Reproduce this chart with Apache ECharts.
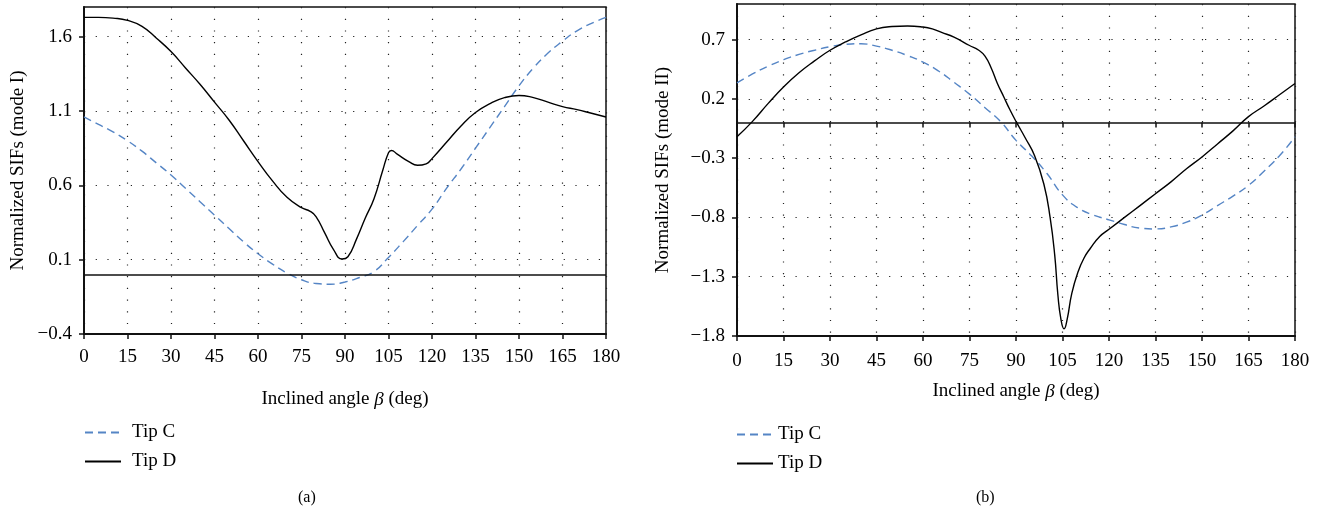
<!DOCTYPE html>
<html><head><meta charset="utf-8">
<script src="https://cdn.jsdelivr.net/npm/echarts@6/dist/echarts.min.js"></script>
<style>html,body{margin:0;padding:0;background:#fff}#c{width:1328px;height:516px}</style>
</head><body><div id="c"></div>
<script>
// ---- data ----
const xTickLabels = [0,15,30,45,60,75,90,105,120,135,150,165,180];
const yTicksA = [-0.4,0.1,0.6,1.1,1.6];
const yTicksB = [-1.8,-1.3,-0.8,-0.3,0.2,0.7];
const seriesNames = ['Tip C','Tip D'];

// (a) mode I
const angA_C = [0,5,10,15,20,25,30,35,40,45,50,55,60,65,70,75,80,85,90,95,100,105,110,115,120,125,130,135,140,145,150,155,160,165,170,175,180];
const valA_C = [1.06,1.01,0.96,0.90,0.83,0.75,0.67,0.58,0.49,0.40,0.31,0.22,0.14,0.07,0.01,-0.035,-0.06,-0.065,-0.05,-0.02,0.02,0.115,0.22,0.33,0.44,0.58,0.71,0.85,0.99,1.13,1.27,1.39,1.49,1.57,1.64,1.69,1.73];
const angA_D = [0,5,10,15,20,25,30,35,40,45,50,55,60,65,70,75,78,80,83,86,89,91,94,97,100,103,105,106,108,112,115,118,120,125,130,135,140,145,150,155,160,165,170,175,180];
const valA_D = [1.73,1.73,1.725,1.71,1.67,1.59,1.50,1.39,1.28,1.16,1.04,0.90,0.76,0.63,0.52,0.45,0.425,0.39,0.28,0.17,0.105,0.12,0.24,0.38,0.51,0.70,0.82,0.835,0.81,0.76,0.735,0.745,0.78,0.89,1.00,1.09,1.15,1.19,1.205,1.19,1.16,1.13,1.11,1.085,1.06];

// (b) mode II
const angB_C = [0,5,10,15,20,25,30,35,40,45,50,55,60,65,70,75,80,85,90,95,100,105,110,115,120,125,130,135,140,145,150,155,160,165,170,175,180];
const valB_C = [0.335,0.41,0.475,0.53,0.575,0.61,0.64,0.66,0.665,0.645,0.61,0.565,0.51,0.435,0.34,0.24,0.125,0.01,-0.15,-0.28,-0.43,-0.61,-0.72,-0.78,-0.82,-0.86,-0.89,-0.897,-0.88,-0.84,-0.78,-0.70,-0.62,-0.53,-0.41,-0.28,-0.12];
const angB_D = [0,5,10,15,20,25,30,35,40,45,50,55,60,63,66,70,75,78,80,82,84,86,88,90,93,96,99,101,102.5,103.5,104.5,105.5,106.5,108,110,112,114,117,120,125,130,135,140,145,150,155,160,165,170,175,180];
const valB_D = [-0.12,0.01,0.16,0.30,0.42,0.52,0.61,0.68,0.74,0.79,0.81,0.815,0.806,0.79,0.76,0.72,0.65,0.61,0.56,0.46,0.33,0.22,0.11,0.01,-0.13,-0.28,-0.52,-0.80,-1.12,-1.45,-1.66,-1.74,-1.66,-1.44,-1.26,-1.14,-1.06,-0.96,-0.90,-0.80,-0.70,-0.60,-0.50,-0.39,-0.29,-0.18,-0.07,0.05,0.14,0.235,0.33];

// ---- chart ----
const FONT = '"Liberation Serif","DejaVu Serif",serif';
const BLUE = '#5585c5';
const zip = (a, b) => a.map((x, i) => [x, b[i]]);
const fmt = v => { const s = (Math.round(v * 10) / 10).toFixed(Number.isInteger(v) ? 0 : 1); return s.replace('-', '\u2212'); };
const nameStyle = { fontFamily: FONT, fontSize: 19, color: '#000',
  rich: { i: { fontFamily: FONT, fontSize: 19, fontStyle: 'italic', color: '#000' } } };

function xAxis(grid, nameGap, labelMargin) {
  return {
    type: 'value', gridIndex: grid, min: 0, max: 180, interval: 15,
    name: 'Inclined angle {i|\u03b2} (deg)', nameLocation: 'middle', nameGap: nameGap,
    nameTextStyle: nameStyle,
    axisLine: { onZero: false, lineStyle: { color: '#111', width: 2 } },
    axisTick: { show: true, length: 5, lineStyle: { color: '#111', width: 1.5 } },
    axisLabel: { fontFamily: FONT, fontSize: 19, color: '#000', margin: labelMargin, formatter: v => String(v) },
    splitLine: { show: true, lineStyle: { color: '#222', width: 1.2, type: [1.2, 10.5] } }
  };
}
function yAxis(grid, min, max, ticks, name, nameGap) {
  return {
    type: 'value', gridIndex: grid, min: min, max: max,
    name: name, nameLocation: 'middle', nameGap: nameGap,
    nameTextStyle: nameStyle,
    axisLine: { show: true, lineStyle: { color: '#111', width: 2 } },
    axisTick: { show: true, length: 5, customValues: ticks, lineStyle: { color: '#111', width: 1.5 } },
    axisLabel: { fontFamily: FONT, fontSize: 19, color: '#000', margin: 12, customValues: ticks, formatter: fmt },
    splitLine: { show: true, lineStyle: { color: '#222', width: 1.2, type: [1.2, 10.5] } }
  };
}
function line(name, xi, yi, data, dashed, extra) {
  return Object.assign({
    name: name, type: 'line', xAxisIndex: xi, yAxisIndex: yi, data: data,
    smooth: 0.5, showSymbol: false, symbol: 'none',
    lineStyle: { color: dashed ? BLUE : '#000', width: 1.4, type: dashed ? [8, 5] : 'solid' },
    itemStyle: { color: dashed ? BLUE : '#000' }, z: 3
  }, extra || {});
}
function legend(left, top, textPad) {
  return {
    left: left, top: top,
    orient: 'vertical', itemWidth: 36, itemHeight: 14, itemGap: 10, padding: 0,
    textStyle: { fontFamily: FONT, fontSize: 19, color: '#000', padding: [0, 0, 0, textPad] },
    itemStyle: { opacity: 0 },
    data: seriesNames, selectedMode: false
  };
}

const option = {
  animation: false,
  backgroundColor: '#fff',
  grid: [
    { left: 84, top: 7, width: 522, height: 327, show: true, borderColor: '#111', borderWidth: 1.5, backgroundColor: 'transparent' },
    { left: 737, top: 4, width: 558, height: 332, show: true, borderColor: '#111', borderWidth: 1.5, backgroundColor: 'transparent' }
  ],
  xAxis: [
    xAxis(0, 56, 14),
    xAxis(1, 46, 16),
    { type: 'value', gridIndex: 1, min: 0, max: 180, interval: 15, position: 'bottom',
      axisLine: { onZero: true, onZeroAxisIndex: 1, lineStyle: { color: '#111', width: 1.5 } },
      axisTick: { show: true, length: 5, lineStyle: { color: '#111', width: 1.5 } },
      axisLabel: { show: false }, splitLine: { show: false } }
  ],
  yAxis: [
    yAxis(0, -0.4, 1.8, yTicksA, 'Normalized SIFs (mode I)', 56),
    yAxis(1, -1.8, 1.0, yTicksB, 'Normalized SIFs (mode II)', 64)
  ],
  legend: [ legend(84, 423, 6), legend(736, 425, 0) ],
  title: [
    { text: '(a)', left: 298, top: 490, padding: 0, textStyle: { fontFamily: FONT, fontSize: 16, fontWeight: 'normal', color: '#000' } },
    { text: '(b)', left: 976, top: 490, padding: 0, textStyle: { fontFamily: FONT, fontSize: 16, fontWeight: 'normal', color: '#000' } }
  ],
  series: [
    line('Tip C', 0, 0, zip(angA_C, valA_C), true),
    line('Tip D', 0, 0, zip(angA_D, valA_D), false, {
      markLine: { silent: true, symbol: 'none', label: { show: false },
        lineStyle: { color: '#111', width: 1.5, type: 'solid' }, data: [{ yAxis: 0 }] }
    }),
    line('Tip C', 1, 1, zip(angB_C, valB_C), true),
    line('Tip D', 1, 1, zip(angB_D, valB_D), false)
  ]
};
const chart = echarts.init(document.getElementById('c'), null, { renderer: 'canvas' });
chart.setOption(option);
</script>
</body></html>
